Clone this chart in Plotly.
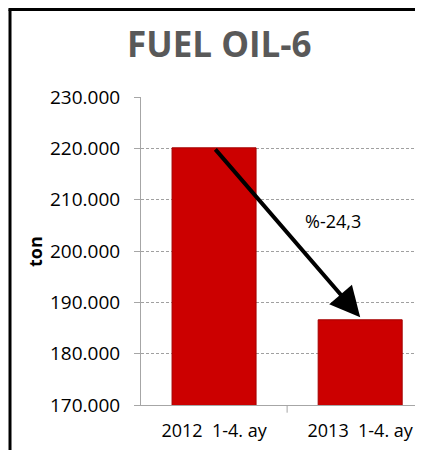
import plotly.graph_objects as go

categories = ["2012  1-4. ay", "2013  1-4. ay"]
values = [220100, 186600]
y_ticks = [170000, 180000, 190000, 200000, 210000, 220000, 230000]
y_tick_text = ["170.000", "180.000", "190.000", "200.000", "210.000", "220.000", "230.000"]
change_label = "%-24,3"

BAR_RED = "#CC0000"
TITLE_GRAY = "#595959"
FONT = "Open Sans"

fig = go.Figure(go.Bar(
    x=[0, 1],
    y=values,
    width=0.575,
    marker=dict(color=BAR_RED, line=dict(color="#A30000", width=1)),
    hoverinfo="skip",
))

# change arrow from first bar top to second bar top
fig.add_annotation(
    x=1.0, y=values[1] + 500, ax=0, ay=values[0],
    xref="x", yref="y", axref="x", ayref="y",
    text="", showarrow=True,
    arrowhead=2, arrowsize=1.5, arrowwidth=4, arrowcolor="black",
)
fig.add_annotation(
    x=0.815, y=205800, xref="x", yref="y",
    text=change_label, showarrow=False,
    font=dict(family=FONT, size=18, color="black"),
)

fig.add_annotation(
    x=0.28, y=1.175, xref="paper", yref="paper",
    text="<b>FUEL OIL-6</b>", showarrow=False,
    font=dict(family=FONT, size=35, color=TITLE_GRAY),
    xanchor="center", yanchor="middle",
)
fig.add_annotation(
    x=-0.376, y=0.5, xref="paper", yref="paper",
    text="<b>ton</b>", showarrow=False, textangle=-90,
    font=dict(family=FONT, size=18, color="black"),
    xanchor="center", yanchor="middle",
)

# outer chart frame (cropped at right and bottom)
fig.add_shape(type="line", xref="paper", yref="paper",
              x0=-0.4645, x1=-0.4645, y0=1.284, y1=-0.2,
              line=dict(color="black", width=3))
fig.add_shape(type="line", xref="paper", yref="paper",
              x0=-0.47, x1=1.1, y0=1.284, y1=1.284,
              line=dict(color="black", width=3))

# page body has an 8px margin, so the figure is shrunk to fit the window
fig.update_layout(
    width=415, height=442,
    plot_bgcolor="white", paper_bgcolor="white",
    margin=dict(l=133, r=0, t=89, b=45),
    showlegend=False,
    xaxis=dict(
        range=[-0.5, 1.43],
        tickvals=[0, 1], ticktext=categories,
        showgrid=False, zeroline=False,
        showline=True, linecolor="#A6A6A6", linewidth=1,
        ticks="", tickfont=dict(family=FONT, size=18, color="black"),
        ticklabelstandoff=9,
        fixedrange=True,
    ),
    yaxis=dict(
        range=[170000, 230000],
        tickvals=y_ticks, ticktext=y_tick_text,
        showgrid=True, gridcolor="#A0A0A0", griddash="3px,2px", gridwidth=1,
        zeroline=False,
        showline=True, linecolor="#A6A6A6", linewidth=1,
        ticks="outside", ticklen=6, tickcolor="#A6A6A6",
        tickfont=dict(family=FONT, size=19, color="black"),
        ticklabelstandoff=10,
        fixedrange=True,
    ),
)

# category divider tick on x axis
fig.add_shape(type="line", xref="x", yref="paper",
              x0=0.5, x1=0.5, y0=0, y1=-0.025,
              line=dict(color="#A6A6A6", width=1))

fig.write_html("out.html")
